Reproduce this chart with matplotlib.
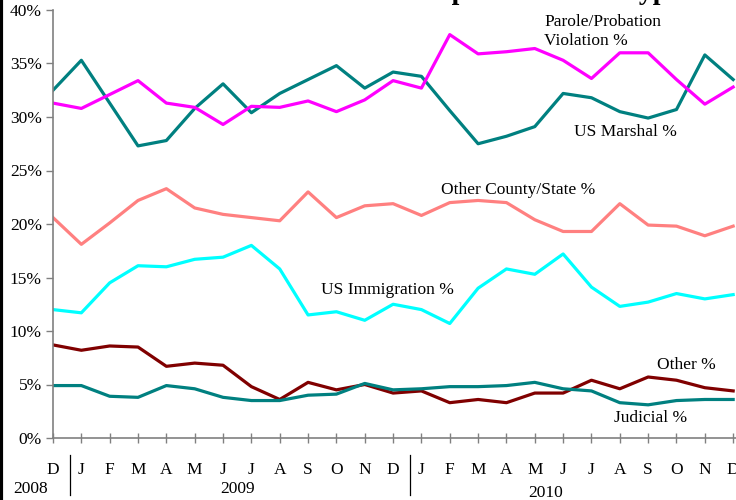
import matplotlib
matplotlib.use("Agg")
import matplotlib.pyplot as plt
import matplotlib.transforms as mtransforms
from matplotlib.lines import Line2D

plt.rcParams['font.family'] = ['Liberation Serif', 'DejaVu Serif']

months = ["D", "J", "F", "M", "A", "M", "J", "J", "A", "S", "O", "N", "D",
          "J", "F", "M", "A", "M", "J", "J", "A", "S", "O", "N", "D"]
years = ["2008", "2009", "2010"]

us_marshal = [32.5, 35.3, 31.3, 27.3, 27.8, 30.8, 33.1, 30.4, 32.2, 33.5, 34.8, 32.7,
              34.2, 33.8, 30.6, 27.5, 28.2, 29.1, 32.2, 31.8, 30.5, 29.9, 30.7, 35.8, 33.5]
parole = [31.3, 30.8, 32.1, 33.4, 31.3, 30.9, 29.3, 31.0, 30.9, 31.5, 30.5, 31.6,
          33.4, 32.7, 37.7, 35.9, 36.1, 36.4, 35.3, 33.6, 36.0, 36.0, 33.5, 31.2, 32.8]
other_county = [20.6, 18.1, 20.1, 22.2, 23.3, 21.5, 20.9, 20.6, 20.3, 23.0, 20.6, 21.7,
                21.9, 20.8, 22.0, 22.2, 22.0, 20.4, 19.3, 19.3, 21.9, 19.9, 19.8, 18.9, 19.8]
us_immigration = [12.0, 11.7, 14.5, 16.1, 16.0, 16.7, 16.9, 18.0, 15.8, 11.5, 11.8, 11.0,
                  12.5, 12.0, 10.7, 14.0, 15.8, 15.3, 17.2, 14.1, 12.3, 12.7, 13.5, 13.0, 13.4]
other = [8.7, 8.2, 8.6, 8.5, 6.7, 7.0, 6.8, 4.8, 3.6, 5.2, 4.5, 5.0,
         4.2, 4.4, 3.3, 3.6, 3.3, 4.2, 4.2, 5.4, 4.6, 5.7, 5.4, 4.7, 4.4]
judicial = [4.9, 4.9, 3.9, 3.8, 4.9, 4.6, 3.8, 3.5, 3.5, 4.0, 4.1, 5.1,
            4.5, 4.6, 4.8, 4.8, 4.9, 5.2, 4.6, 4.4, 3.3, 3.1, 3.5, 3.6, 3.6]

fig = plt.figure(figsize=(7.36, 5.0), dpi=100)
ax = fig.add_axes([53/736, 1 - 438/500, 1 - 53/736, 428/500])

x = list(range(len(months)))
lw = 2.3
ax.plot(x, us_marshal, color="#008080", lw=lw)
ax.plot(x, parole, color="#FF00FF", lw=lw)
ax.plot(x, other_county, color="#FF8080", lw=lw)
ax.plot(x, us_immigration, color="#00FFFF", lw=lw)
ax.plot(x, other, color="#800000", lw=lw)
ax.plot(x, judicial, color="#008080", lw=lw)

ax.set_xlim(0, 24.1)
ax.set_ylim(0, 40)
ax.set_yticks(range(0, 41, 5))
ax.set_yticklabels([f"{v}%" for v in range(0, 41, 5)], fontsize=12.5)
ax.set_xticks(x)
ax.set_xticklabels(months, fontsize=12.5)
ax.tick_params(axis='y', direction='out', length=5, width=1, color='#808080', pad=3)
ax.tick_params(axis='x', direction='inout', length=7, width=1, color='#808080', pad=14)

for s in ['top', 'right']:
    ax.spines[s].set_visible(False)
for s in ['left', 'bottom']:
    ax.spines[s].set_color('#808080')
    ax.spines[s].set_linewidth(1.2)

trans = mtransforms.blended_transform_factory(ax.transData, ax.transAxes)
ax.text(-0.8, -0.118, years[0], transform=trans, ha='center', va='center', fontsize=12.5, clip_on=False)
ax.text(6.5, -0.118, years[1], transform=trans, ha='center', va='center', fontsize=12.5, clip_on=False)
ax.text(17.4, -0.128, years[2], transform=trans, ha='center', va='center', fontsize=12.5, clip_on=False)
for xs in (0.6, 12.6):
    ax.add_line(Line2D([xs, xs], [-0.04, -0.133], transform=trans, color='black', lw=0.9, clip_on=False))

# series labels
ax.text(17.33, 38.0, "Parole/Probation\nViolation %", fontsize=12.5, ha='left', va='center', linespacing=1.3)
ax.text(20.2, 28.6, "US Marshal %", fontsize=12.5, ha='center', va='center')
ax.text(16.4, 23.2, "Other County/State %", fontsize=12.5, ha='center', va='center')
ax.text(11.8, 13.8, "US Immigration %", fontsize=12.5, ha='center', va='center')
ax.text(22.35, 6.8, "Other %", fontsize=12.5, ha='center', va='center')
ax.text(21.1, 1.9, "Judicial %", fontsize=12.5, ha='center', va='center')

# title, mostly above the visible area (as in the reference)
fig.text(421/736, 1.003, "Population Hold Type", fontsize=20, fontweight='bold',
         ha='left', va='baseline')

# left border
fig.add_artist(Line2D([0.002, 0.002], [0, 1], transform=fig.transFigure, color='black', lw=3))

fig.savefig("out.png", dpi=100)
